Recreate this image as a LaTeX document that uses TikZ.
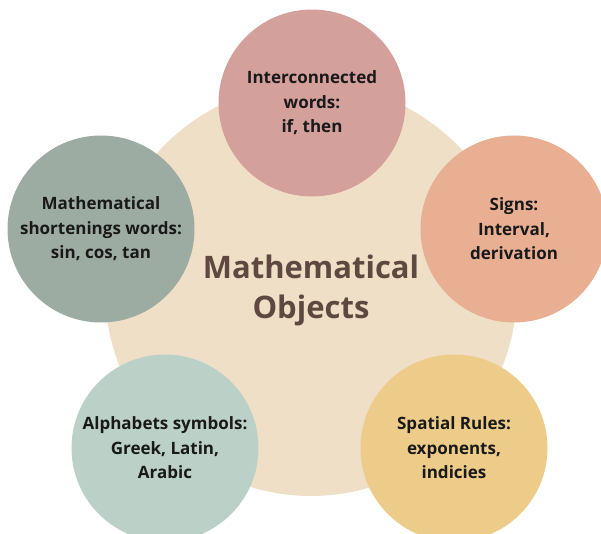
\documentclass[tikz,border=0pt]{standalone}
\usepackage{fontspec}
\setmainfont{Open Sans}
\usetikzlibrary{positioning}
\definecolor{hubbeige}{RGB}{240,223,199}
\definecolor{hubtext}{RGB}{94,72,64}
\definecolor{rosepink}{RGB}{211,160,155}
\definecolor{sagegrey}{RGB}{157,172,163}
\definecolor{peach}{RGB}{232,175,147}
\definecolor{mintgreen}{RGB}{187,209,199}
\definecolor{sand}{RGB}{237,204,138}

\begin{document}
\begin{tikzpicture}[x=1pt,y=-1pt,
	topic/.style={circle, minimum size=187pt, inner sep=0pt, align=center, text=black!90, font=\bfseries\fontsize{17}{24.5}\selectfont}]
	\useasboundingbox (0,0) rectangle (601,534);
	\clip (0,0) rectangle (601,534);
	% big circle in the middle
	\node[circle, fill=hubbeige, minimum size=412pt, inner sep=0pt, align=center, text=hubtext, font=\bfseries\fontsize{31}{40}\selectfont] (hub) at (311,290) {Mathematical\\Objects};
	% the five small circles
	\node[topic, fill=rosepink] (words) at (312,103) {Interconnected\\words:\\if, then};
	\node[topic, fill=sagegrey] (shortenings) at (101,229) {Mathematical\\shortenings words:\\sin, cos, tan};
	\node[topic, fill=peach] (signs) at (514,229) {Signs:\\Interval,\\derivation};
	\node[topic, fill=mintgreen] (alphabets) at (165,448) {Alphabets symbols:\\Greek, Latin,\\Arabic};
	\node[topic, fill=sand] (rules) at (454,448) {Spatial Rules:\\exponents,\\indicies};
\end{tikzpicture}
\end{document}
